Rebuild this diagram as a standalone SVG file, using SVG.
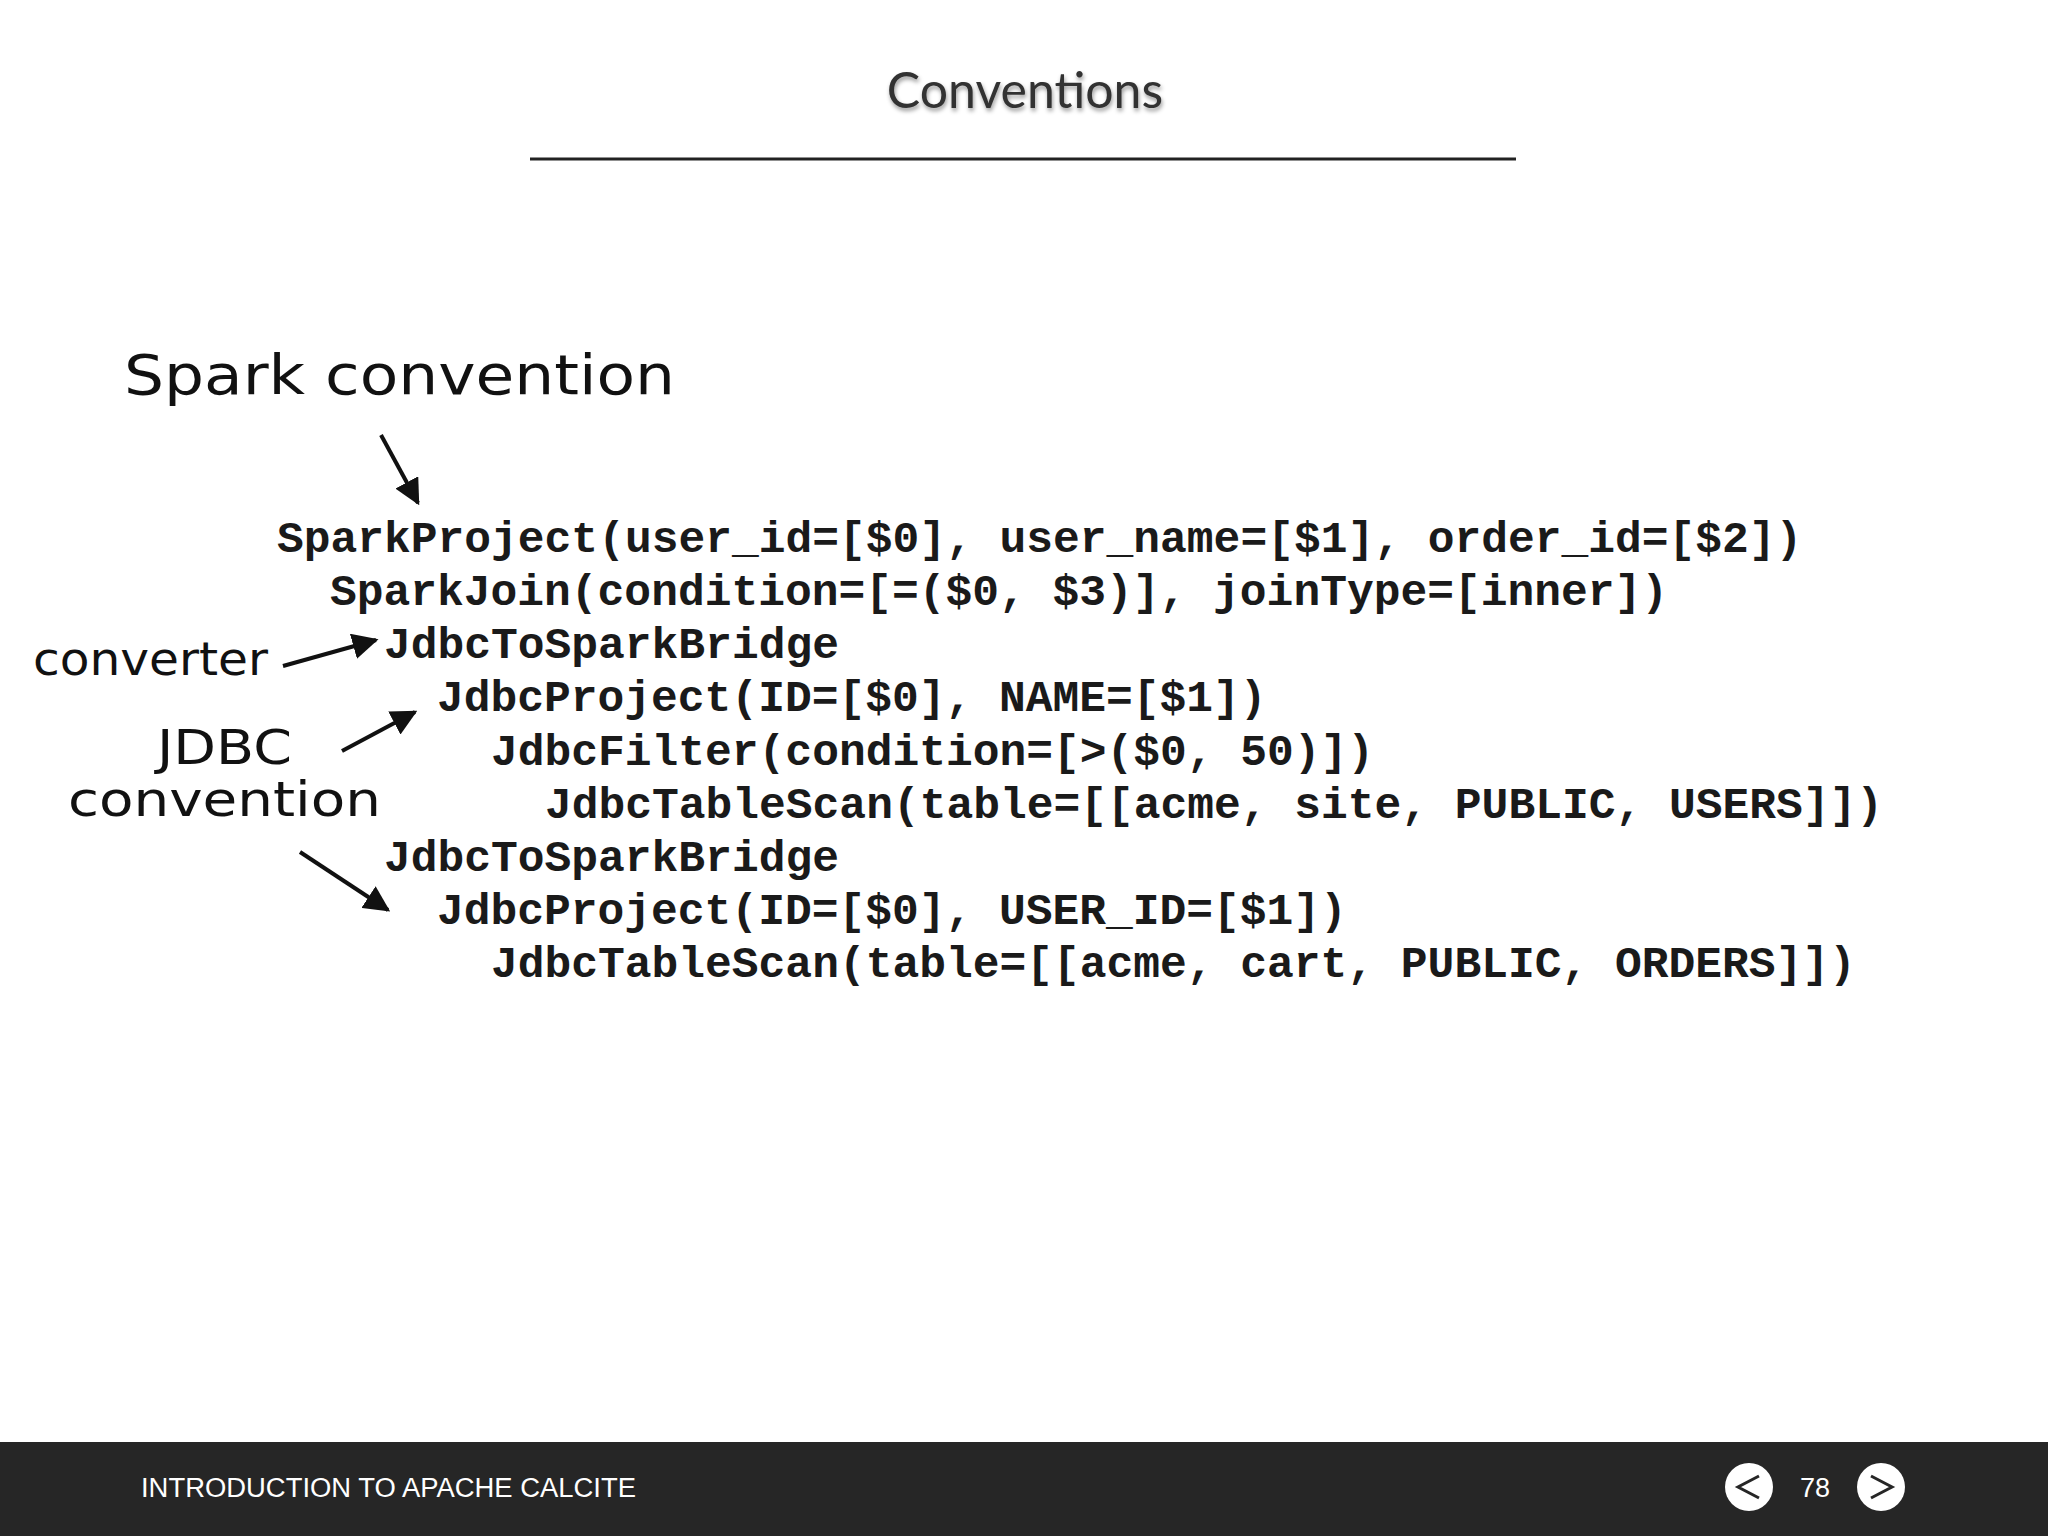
<svg xmlns="http://www.w3.org/2000/svg" width="2048" height="1536" viewBox="0 0 2048 1536">
<style>
.code{font-family:"Liberation Mono",monospace;font-weight:bold;font-size:44.6px;fill:#1a1a1a}
.hand{font-family:"Comic Sans MS","DejaVu Sans",sans-serif;fill:#111}
</style>
<defs>
<marker id="a" viewBox="0 0 10 10" refX="9" refY="5" markerWidth="26" markerHeight="26" markerUnits="userSpaceOnUse" orient="auto"><path d="M0,0 L10,5 L0,10 z" fill="#111"/></marker>
<filter id="sh"><feDropShadow dx="1" dy="3" stdDeviation="2" flood-opacity="0.4"/></filter>
</defs>
<rect width="2048" height="1536" fill="#fff"/>
<g id="title">
<text x="1025" y="108" text-anchor="middle" font-family="Lato, sans-serif" font-size="50" fill="#333" filter="url(#sh)">Conventions</text>
<line x1="530" y1="159" x2="1516" y2="159" stroke="#222" stroke-width="3"/>
</g>
<g id="code">
<text class="code" x="277" y="552">SparkProject(user_id=[$0], user_name=[$1], order_id=[$2])</text>
<text class="code" x="330" y="605">SparkJoin(condition=[=($0, $3)], joinType=[inner])</text>
<text class="code" x="384" y="658">JdbcToSparkBridge</text>
<text class="code" x="437" y="711">JdbcProject(ID=[$0], NAME=[$1])</text>
<text class="code" x="491" y="765">JdbcFilter(condition=[&gt;($0, 50)])</text>
<text class="code" x="545" y="818">JdbcTableScan(table=[[acme, site, PUBLIC, USERS]])</text>
<text class="code" x="384" y="871">JdbcToSparkBridge</text>
<text class="code" x="437" y="924">JdbcProject(ID=[$0], USER_ID=[$1])</text>
<text class="code" x="491" y="977">JdbcTableScan(table=[[acme, cart, PUBLIC, ORDERS]])</text>
</g>
<g id="labels">
<text class="hand" x="124" y="394" font-size="56" textLength="551" lengthAdjust="spacingAndGlyphs">Spark convention</text>
<text class="hand" x="33" y="675" font-size="46" textLength="235" lengthAdjust="spacingAndGlyphs">converter</text>
<text class="hand" x="157" y="764" font-size="48" textLength="135" lengthAdjust="spacingAndGlyphs">JDBC</text>
<text class="hand" x="68" y="816" font-size="48" textLength="313" lengthAdjust="spacingAndGlyphs">convention</text>
</g>
<g id="connectors" stroke="#111" stroke-width="4" fill="none">
<line x1="381" y1="435" x2="418" y2="503" marker-end="url(#a)"/>
<line x1="283" y1="666" x2="376" y2="640" marker-end="url(#a)"/>
<line x1="342" y1="751" x2="415" y2="712" marker-end="url(#a)"/>
<line x1="300" y1="852" x2="388" y2="910" marker-end="url(#a)"/>
</g>
<g id="footer">
<rect x="0" y="1442" width="2048" height="94" fill="#262626"/>
<text x="141" y="1497" font-family="Liberation Sans, sans-serif" font-size="27" fill="#fff" textLength="495" lengthAdjust="spacingAndGlyphs">INTRODUCTION TO APACHE CALCITE</text>
<circle cx="1749" cy="1487" r="24" fill="#fff"/>
<path d="M1759,1476 L1738,1487 L1759,1498" stroke="#262626" stroke-width="3" fill="none"/>
<text x="1815" y="1497" text-anchor="middle" font-family="Liberation Sans, sans-serif" font-size="27" fill="#fff">78</text>
<circle cx="1881" cy="1487" r="24" fill="#fff"/>
<path d="M1871,1476 L1892,1487 L1871,1498" stroke="#262626" stroke-width="3" fill="none"/>
</g>
</svg>
